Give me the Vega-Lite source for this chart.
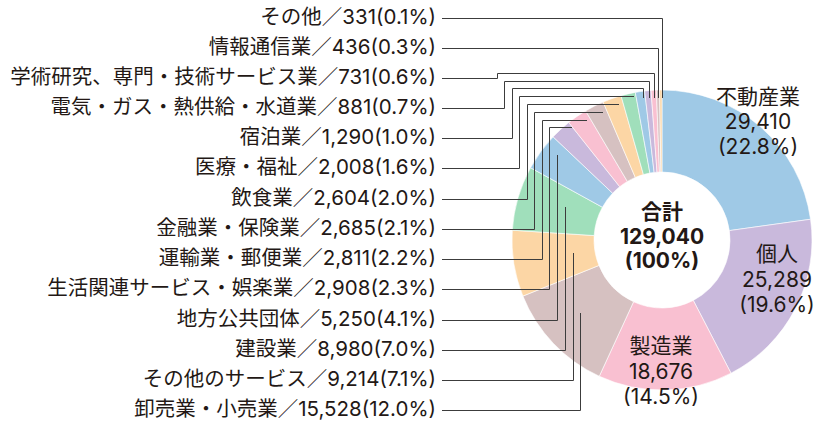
{
  "$schema": "https://vega.github.io/schema/vega-lite/v6.json",
  "width": 828,
  "height": 423,
  "padding": 0,
  "autosize": {"type": "fit", "contains": "padding"},
  "config": {"view": {"stroke": null}, "text": {"font": "Inter, Noto Sans CJK JP", "color": "#231815"}},
  "datasets": {
    "sectors": [
      {"ord": 1, "name": "不動産業", "value": 29410, "pct": 22.8},
      {"ord": 2, "name": "個人", "value": 25289, "pct": 19.6},
      {"ord": 3, "name": "製造業", "value": 18676, "pct": 14.5},
      {"ord": 4, "name": "卸売業・小売業", "value": 15528, "pct": 12.0},
      {"ord": 5, "name": "その他のサービス", "value": 9214, "pct": 7.1},
      {"ord": 6, "name": "建設業", "value": 8980, "pct": 7.0},
      {"ord": 7, "name": "地方公共団体", "value": 5250, "pct": 4.1},
      {"ord": 8, "name": "生活関連サービス・娯楽業", "value": 2908, "pct": 2.3},
      {"ord": 9, "name": "運輸業・郵便業", "value": 2811, "pct": 2.2},
      {"ord": 10, "name": "金融業・保険業", "value": 2685, "pct": 2.1},
      {"ord": 11, "name": "飲食業", "value": 2604, "pct": 2.0},
      {"ord": 12, "name": "医療・福祉", "value": 2008, "pct": 1.6},
      {"ord": 13, "name": "宿泊業", "value": 1290, "pct": 1.0},
      {"ord": 14, "name": "電気・ガス・熱供給・水道業", "value": 881, "pct": 0.7},
      {"ord": 15, "name": "学術研究、専門・技術サービス業", "value": 731, "pct": 0.6},
      {"ord": 16, "name": "情報通信業", "value": 436, "pct": 0.3},
      {"ord": 17, "name": "その他", "value": 331, "pct": 0.1}
    ],
    "leaders": [
      {"name": "その他", "seq": 0, "x": 442, "y": 18.5},
      {"name": "その他", "seq": 1, "x": 662.5, "y": 18.5},
      {"name": "その他", "seq": 2, "x": 662.5, "y": 98},
      {"name": "情報通信業", "seq": 0, "x": 442, "y": 48.5},
      {"name": "情報通信業", "seq": 1, "x": 658.5, "y": 48.5},
      {"name": "情報通信業", "seq": 2, "x": 658.5, "y": 98},
      {"name": "学術研究、専門・技術サービス業", "seq": 0, "x": 442, "y": 78.5},
      {"name": "学術研究、専門・技術サービス業", "seq": 1, "x": 497.5, "y": 78.5},
      {"name": "学術研究、専門・技術サービス業", "seq": 2, "x": 497.5, "y": 73.5},
      {"name": "学術研究、専門・技術サービス業", "seq": 3, "x": 654.5, "y": 73.5},
      {"name": "学術研究、専門・技術サービス業", "seq": 4, "x": 654.5, "y": 98},
      {"name": "電気・ガス・熱供給・水道業", "seq": 0, "x": 442, "y": 108.5},
      {"name": "電気・ガス・熱供給・水道業", "seq": 1, "x": 504.5, "y": 108.5},
      {"name": "電気・ガス・熱供給・水道業", "seq": 2, "x": 504.5, "y": 81.5},
      {"name": "電気・ガス・熱供給・水道業", "seq": 3, "x": 649.5, "y": 81.5},
      {"name": "電気・ガス・熱供給・水道業", "seq": 4, "x": 649.5, "y": 98},
      {"name": "宿泊業", "seq": 0, "x": 442, "y": 138.5},
      {"name": "宿泊業", "seq": 1, "x": 512.5, "y": 138.5},
      {"name": "宿泊業", "seq": 2, "x": 512.5, "y": 88.5},
      {"name": "宿泊業", "seq": 3, "x": 643.5, "y": 88.5},
      {"name": "宿泊業", "seq": 4, "x": 643.5, "y": 98},
      {"name": "医療・福祉", "seq": 0, "x": 442, "y": 168.5},
      {"name": "医療・福祉", "seq": 1, "x": 519.5, "y": 168.5},
      {"name": "医療・福祉", "seq": 2, "x": 519.5, "y": 96.5},
      {"name": "医療・福祉", "seq": 3, "x": 634, "y": 96.5},
      {"name": "飲食業", "seq": 0, "x": 442, "y": 199.5},
      {"name": "飲食業", "seq": 1, "x": 527.5, "y": 199.5},
      {"name": "飲食業", "seq": 2, "x": 527.5, "y": 104.5},
      {"name": "飲食業", "seq": 3, "x": 619, "y": 104.5},
      {"name": "金融業・保険業", "seq": 0, "x": 442, "y": 229.5},
      {"name": "金融業・保険業", "seq": 1, "x": 534.5, "y": 229.5},
      {"name": "金融業・保険業", "seq": 2, "x": 534.5, "y": 112.5},
      {"name": "金融業・保険業", "seq": 3, "x": 603, "y": 112.5},
      {"name": "運輸業・郵便業", "seq": 0, "x": 442, "y": 259.5},
      {"name": "運輸業・郵便業", "seq": 1, "x": 542.5, "y": 259.5},
      {"name": "運輸業・郵便業", "seq": 2, "x": 542.5, "y": 120.5},
      {"name": "運輸業・郵便業", "seq": 3, "x": 587, "y": 120.5},
      {"name": "生活関連サービス・娯楽業", "seq": 0, "x": 442, "y": 289.5},
      {"name": "生活関連サービス・娯楽業", "seq": 1, "x": 549.5, "y": 289.5},
      {"name": "生活関連サービス・娯楽業", "seq": 2, "x": 549.5, "y": 127.5},
      {"name": "生活関連サービス・娯楽業", "seq": 3, "x": 572, "y": 127.5},
      {"name": "地方公共団体", "seq": 0, "x": 442, "y": 320.5},
      {"name": "地方公共団体", "seq": 1, "x": 557.5, "y": 320.5},
      {"name": "地方公共団体", "seq": 2, "x": 557.5, "y": 155},
      {"name": "建設業", "seq": 0, "x": 442, "y": 350.5},
      {"name": "建設業", "seq": 1, "x": 565.5, "y": 350.5},
      {"name": "建設業", "seq": 2, "x": 565.5, "y": 207},
      {"name": "その他のサービス", "seq": 0, "x": 442, "y": 380.5},
      {"name": "その他のサービス", "seq": 1, "x": 573.5, "y": 380.5},
      {"name": "その他のサービス", "seq": 2, "x": 573.5, "y": 253},
      {"name": "卸売業・小売業", "seq": 0, "x": 442, "y": 410.5},
      {"name": "卸売業・小売業", "seq": 1, "x": 580.5, "y": 410.5},
      {"name": "卸売業・小売業", "seq": 2, "x": 580.5, "y": 313}
    ]
  },
  "layer": [
    {
      "data": {"name": "sectors"},
      "mark": {"type": "arc", "innerRadius": 68, "outerRadius": 150, "stroke": "#ffffff", "strokeWidth": 0.6},
      "encoding": {
        "theta": {"field": "value", "type": "quantitative", "stack": true},
        "order": {"field": "ord", "type": "quantitative"},
        "color": {
          "field": "name",
          "type": "nominal",
          "legend": null,
          "scale": {
            "domain": ["不動産業", "個人", "製造業", "卸売業・小売業", "その他のサービス", "建設業", "地方公共団体", "生活関連サービス・娯楽業", "運輸業・郵便業", "金融業・保険業", "飲食業", "医療・福祉", "宿泊業", "電気・ガス・熱供給・水道業", "学術研究、専門・技術サービス業", "情報通信業", "その他"],
            "range": ["#9fc9e6", "#c9b9dc", "#f9c0d1", "#d6c1c1", "#fcd6a5", "#a0dfbb", "#9fc9e6", "#c9b9dc", "#f9c0d1", "#d6c1c1", "#fcd6a5", "#a0dfbb", "#9fc9e6", "#c9b9dc", "#f9c0d1", "#d6c1c1", "#fcd6a5"]
          }
        },
        "x": {"datum": 662, "type": "quantitative", "axis": null, "scale": {"domain": [0, 828], "nice": false, "zero": false}},
        "y": {"datum": 240, "type": "quantitative", "axis": null, "scale": {"domain": [0, 423], "reverse": true, "nice": false, "zero": false}}
      }
    },
    {
      "data": {"name": "leaders"},
      "mark": {"type": "line", "stroke": "#3c3c3c", "strokeWidth": 1},
      "encoding": {
        "x": {"field": "x", "type": "quantitative", "axis": null},
        "y": {"field": "y", "type": "quantitative", "axis": null},
        "detail": {"field": "name", "type": "nominal"},
        "order": {"field": "seq", "type": "quantitative"}
      }
    },
    {
      "data": {"name": "leaders"},
      "transform": [
        {"filter": "datum.seq == 0"},
        {"lookup": "name", "from": {"data": {"name": "sectors"}, "key": "name", "fields": ["value", "pct"]}},
        {"calculate": "datum.name + '／' + format(datum.value, ',') + '(' + format(datum.pct, '.1f') + '%)'", "as": "label"}
      ],
      "mark": {"type": "text", "align": "right", "baseline": "middle", "fontSize": 20.5, "dx": -6, "dy": -1},
      "encoding": {
        "x": {"field": "x", "type": "quantitative", "axis": null},
        "y": {"field": "y", "type": "quantitative", "axis": null},
        "text": {"field": "label", "type": "nominal"}
      }
    },
    {
      "data": {"name": "sectors"},
      "transform": [
        {"filter": "datum.name == '不動産業'"},
        {"calculate": "datum.name + '\\n' + format(datum.value, ',') + '\\n(' + format(datum.pct, '.1f') + '%)'", "as": "lbl"}
      ],
      "mark": {"type": "text", "align": "center", "baseline": "middle", "fontSize": 21, "lineHeight": 25, "lineBreak": "\n"},
      "encoding": {
        "x": {"datum": 758, "type": "quantitative"},
        "y": {"datum": 98, "type": "quantitative"},
        "text": {"field": "lbl", "type": "nominal"}
      }
    },
    {
      "data": {"name": "sectors"},
      "transform": [
        {"filter": "datum.name == '個人'"},
        {"calculate": "datum.name + '\\n' + format(datum.value, ',') + '\\n(' + format(datum.pct, '.1f') + '%)'", "as": "lbl"}
      ],
      "mark": {"type": "text", "align": "center", "baseline": "middle", "fontSize": 21, "lineHeight": 25.5, "lineBreak": "\n"},
      "encoding": {
        "x": {"datum": 777, "type": "quantitative"},
        "y": {"datum": 255, "type": "quantitative"},
        "text": {"field": "lbl", "type": "nominal"}
      }
    },
    {
      "data": {"name": "sectors"},
      "transform": [
        {"filter": "datum.name == '製造業'"},
        {"calculate": "datum.name + '\\n' + format(datum.value, ',') + '\\n(' + format(datum.pct, '.1f') + '%)'", "as": "lbl"}
      ],
      "mark": {"type": "text", "align": "center", "baseline": "middle", "fontSize": 21, "lineHeight": 25.5, "lineBreak": "\n"},
      "encoding": {
        "x": {"datum": 661, "type": "quantitative"},
        "y": {"datum": 347, "type": "quantitative"},
        "text": {"field": "lbl", "type": "nominal"}
      }
    },
    {
      "data": {"values": [{}]},
      "mark": {"type": "text", "align": "center", "baseline": "middle", "fontSize": 21, "fontWeight": "bold", "lineHeight": 24.5},
      "encoding": {
        "x": {"datum": 662, "type": "quantitative"},
        "y": {"datum": 213, "type": "quantitative"},
        "text": {"value": ["合計", "129,040", "(100%)"]}
      }
    }
  ]
}
